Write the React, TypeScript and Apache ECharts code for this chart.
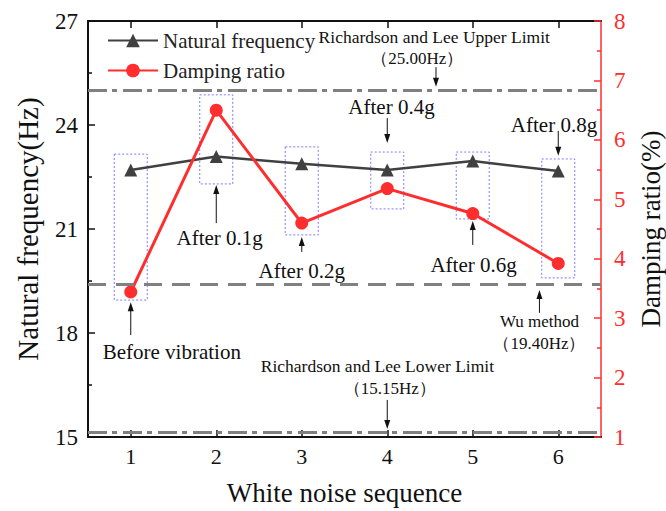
import React, { useEffect, useRef } from 'react';
import * as echarts from 'echarts';

// ---- data ----
const sequence = [1, 2, 3, 4, 5, 6];
const naturalFrequency = [22.7, 23.09, 22.88, 22.7, 22.96, 22.67];
const dampingRatio = [3.44, 6.5, 4.6, 5.18, 4.76, 3.92];
const boxTop = [23.16, 24.87, 23.37, 23.22, 23.22, 23.02];
const boxBottom = [18.95, 22.3, 20.83, 21.58, 21.29, 19.59];
const freqRange = [15, 27];
const freqInterval = 3;
const dampRange = [1, 8];
const dampInterval = 1;
const upperLimit = 25.0;
const wuMethod = 19.4;
const lowerLimit = 15.15;

// annotation texts (positions in data units: x = sequence, y = Hz)
const annoTexts = [
  { text: 'Richardson and Lee Upper Limit', x: 4.55, y: 26.54, size: 17.5 },
  { text: '（25.00Hz）', x: 4.35, y: 25.93, size: 17 },
  { text: 'After 0.4g', x: 4.05, y: 24.52, size: 21 },
  { text: 'After 0.8g', x: 5.95, y: 24.0, size: 21 },
  { text: 'After 0.1g', x: 2.04, y: 20.74, size: 21 },
  { text: 'After 0.2g', x: 3.0, y: 19.79, size: 21 },
  { text: 'Before vibration', x: 1.48, y: 17.45, size: 21 },
  { text: 'After 0.6g', x: 5.01, y: 19.96, size: 21 },
  { text: 'Wu method', x: 5.78, y: 18.32, size: 17 },
  { text: '（19.40Hz）', x: 5.78, y: 17.71, size: 17 },
  { text: 'Richardson and Lee Lower Limit', x: 3.885, y: 17.05, size: 17.5 },
  { text: '（15.15Hz）', x: 4.03, y: 16.39, size: 17 },
];
// arrows: from (x, y1) to (x, y2) with head at y2
const annoArrows = [
  { x: 4.57, y1: 25.67, y2: 25.1 },
  { x: 4.0, y1: 24.2, y2: 23.48 },
  { x: 6.0, y1: 23.83, y2: 23.11 },
  { x: 2.0, y1: 21.17, y2: 22.27 },
  { x: 3.0, y1: 20.34, y2: 20.77 },
  { x: 1.0, y1: 17.94, y2: 18.89 },
  { x: 5.0, y1: 20.54, y2: 21.23 },
  { x: 5.78, y1: 18.58, y2: 19.24 },
  { x: 4.0, y1: 16.07, y2: 15.23 },
];

const FONT = '"Liberation Serif", "Times New Roman", serif';
const RED = '#ff2e2e';
const DARK = '#404040';
const GREY = '#808080';

export default function App() {
  const ref = useRef<HTMLDivElement>(null);
  useEffect(() => {
    if (!ref.current) return;
    const chart = echarts.init(ref.current, null, { renderer: 'svg' });
    const boxData = sequence.map((s, i) => [s, boxTop[i], boxBottom[i]]);
    const option: any = {
      animation: false,
      backgroundColor: '#fff',
      textStyle: { fontFamily: FONT },
      grid: { left: 88, right: 65, top: 21, bottom: 74, containLabel: false, outerBoundsMode: 'none' },
      legend: {
        left: 102,
        top: 25,
        orient: 'vertical',
        itemWidth: 50,
        itemHeight: 17,
        itemGap: 9,
        textStyle: { fontSize: 21, fontFamily: FONT, color: '#222' },
        data: ['Natural frequency', 'Damping ratio'],
      },
      xAxis: [
        {
          type: 'value',
          position: 'bottom',
          min: 0.5,
          max: 6.5,
          name: 'White noise sequence',
          nameLocation: 'middle',
          nameGap: 42,
          nameTextStyle: { fontSize: 27, fontFamily: FONT, color: '#111' },
          axisLine: { show: true, lineStyle: { color: '#111', width: 2 } },
          axisTick: { show: true, inside: true, length: 7, customValues: sequence, lineStyle: { color: '#111', width: 1.5 } },
          axisLabel: { customValues: sequence, fontSize: 22, margin: 8, color: '#111', fontFamily: FONT },
          splitLine: { show: false },
        },
        {
          type: 'value',
          position: 'top',
          min: 0.5,
          max: 6.5,
          axisLine: { show: true, lineStyle: { color: '#111', width: 2 } },
          axisTick: { show: true, inside: true, length: 7, customValues: sequence, lineStyle: { color: '#111', width: 1.5 } },
          axisLabel: { show: false },
          splitLine: { show: false },
        },
      ],
      yAxis: [
        {
          type: 'value',
          position: 'left',
          min: freqRange[0],
          max: freqRange[1],
          interval: freqInterval,
          name: 'Natural frequency(Hz)',
          nameLocation: 'middle',
          nameRotate: 90,
          nameGap: 46,
          nameTextStyle: { fontSize: 29, fontFamily: FONT, color: '#111' },
          axisLine: { show: true, lineStyle: { color: '#111', width: 2 } },
          axisTick: { show: true, inside: true, length: 7, lineStyle: { color: '#111', width: 1.5 } },
          minorTick: { show: true, splitNumber: 2, length: 4, lineStyle: { color: '#111', width: 1.5 } },
          axisLabel: { fontSize: 23, margin: 10, color: '#111', fontFamily: FONT },
          splitLine: { show: false },
        },
        {
          type: 'value',
          position: 'right',
          min: dampRange[0],
          max: dampRange[1],
          interval: dampInterval,
          name: 'Damping ratio(%)',
          nameLocation: 'middle',
          nameRotate: 90,
          nameGap: 36,
          nameTextStyle: { fontSize: 27, fontFamily: FONT, color: '#111' },
          axisLine: { show: true, lineStyle: { color: RED, width: 1.5 } },
          axisTick: { show: true, inside: true, length: 7, lineStyle: { color: RED, width: 1.5 } },
          minorTick: { show: true, splitNumber: 2, length: 4, lineStyle: { color: RED, width: 1.5 } },
          axisLabel: { fontSize: 23, margin: 13, color: RED, fontFamily: FONT },
          splitLine: { show: false },
        },
      ],
      series: [
        {
          type: 'custom',
          name: 'boxes',
          xAxisIndex: 0,
          yAxisIndex: 0,
          z: 1,
          silent: true,
          data: boxData,
          renderItem: (params: any, api: any) => {
            const x = api.value(0);
            const p1 = api.coord([x - 0.193, api.value(1)]);
            const p2 = api.coord([x + 0.193, api.value(2)]);
            return {
              type: 'rect',
              shape: { x: p1[0], y: p1[1], width: p2[0] - p1[0], height: p2[1] - p1[1] },
              style: { fill: 'none', stroke: '#7b7bff', lineWidth: 1, lineDash: [2, 2] },
            };
          },
        },
        {
          type: 'line',
          name: 'Natural frequency',
          xAxisIndex: 0,
          yAxisIndex: 0,
          z: 3,
          data: sequence.map((s, i) => [s, naturalFrequency[i]]),
          symbol: 'triangle',
          symbolSize: 13,
          itemStyle: { color: DARK },
          lineStyle: { color: DARK, width: 2.5 },
          markLine: {
            silent: true,
            symbol: ['none', 'none'],
            label: { show: false },
            data: [
              { yAxis: upperLimit, lineStyle: { color: GREY, width: 3, type: [19, 5, 5, 6] } },
              { yAxis: wuMethod, lineStyle: { color: GREY, width: 3, type: [18, 10] } },
              { yAxis: lowerLimit, lineStyle: { color: GREY, width: 3, type: [19, 5, 5, 6] } },
            ],
          },
        },
        {
          type: 'line',
          name: 'Damping ratio',
          xAxisIndex: 0,
          yAxisIndex: 1,
          z: 4,
          data: sequence.map((s, i) => [s, dampingRatio[i]]),
          symbol: 'circle',
          symbolSize: 13,
          itemStyle: { color: RED },
          lineStyle: { color: RED, width: 3 },
        },
      ],
    };
    chart.setOption(option);

    const toPx = (x: number, y: number) => chart.convertToPixel({ seriesIndex: 1 }, [x, y]) as number[];
    const graphics: any[] = [];
    annoTexts.forEach((a) => {
      const p = toPx(a.x, a.y);
      graphics.push({
        type: 'text',
        x: p[0],
        y: p[1],
        silent: true,
        style: {
          text: a.text,
          fontSize: a.size,
          fontFamily: FONT,
          fill: '#111',
          align: 'center',
          verticalAlign: 'middle',
        },
      });
    });
    annoArrows.forEach((a) => {
      const p1 = toPx(a.x, a.y1);
      const p2 = toPx(a.x, a.y2);
      const dir = p2[1] > p1[1] ? 1 : -1;
      graphics.push({
        type: 'line',
        silent: true,
        shape: { x1: p1[0], y1: p1[1], x2: p2[0], y2: p2[1] - dir * 4 },
        style: { stroke: '#111', lineWidth: 1 },
      });
      graphics.push({
        type: 'polygon',
        silent: true,
        shape: {
          points: [
            [p2[0], p2[1]],
            [p2[0] - 3, p2[1] - dir * 9],
            [p2[0] + 3, p2[1] - dir * 9],
          ],
        },
        style: { fill: '#111' },
      });
    });
    chart.setOption({ graphic: graphics });

    return () => chart.dispose();
  }, []);
  return (
    <div
      ref={ref}
      style={{ position: 'fixed', left: 0, top: 0, width: 666, height: 511, background: '#fff' }}
    />
  );
}
